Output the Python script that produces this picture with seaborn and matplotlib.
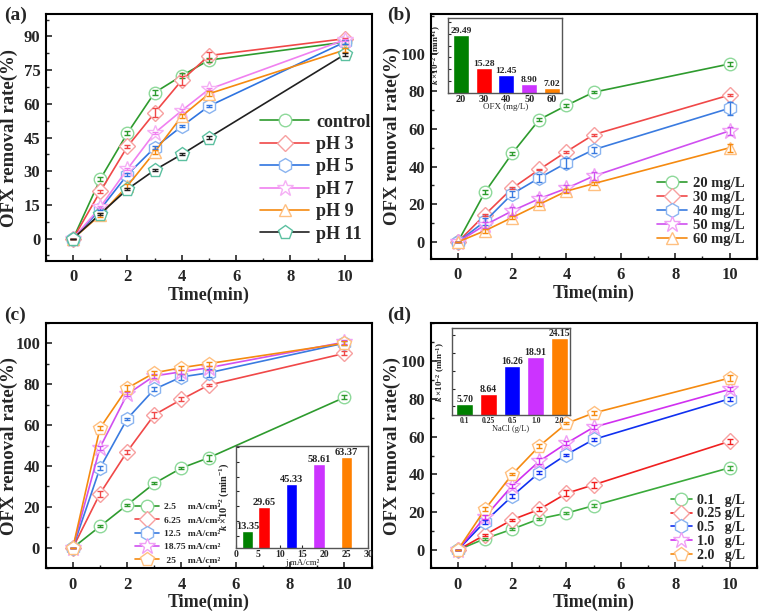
import numpy as np
import pandas as pd
import matplotlib
matplotlib.use('Agg')
import matplotlib.pyplot as plt
import seaborn as sns
from matplotlib.ticker import MultipleLocator, AutoMinorLocator, NullFormatter, FixedLocator

# ---------------- data ----------------
time = [0, 1, 2, 3, 4, 5, 10]

# (a) pH
ph_labels = ['control', 'pH 3', 'pH 5', 'pH 7', 'pH 9', 'pH 11']
ph_control = [0, 26.5, 47, 65, 72.5, 79.5, 87.5]
ph_3 = [0, 21, 41, 56, 70.5, 81.5, 89]
ph_5 = [0, 13, 28.5, 40.5, 50, 59, 87.5]
ph_7 = [0, 14, 31, 47, 57, 66.5, 88.5]
ph_9 = [0, 10.5, 23.5, 38.5, 54.5, 64.5, 84]
ph_11 = [0, 11, 22, 30.5, 37.5, 45, 82]
ph_err = [[0, 1.0, 1.0, 1.2, 1.2, 1.0, 0.8],
          [0, 0.5, 0.5, 2.0, 2.0, 1.5, 0.5],
          [0, 0.5, 0.5, 0.5, 0.5, 0.5, 0.8],
          [0, 0.5, 0.5, 0.5, 0.5, 0.5, 0.5],
          [0, 1.0, 1.0, 1.0, 1.0, 1.0, 1.0],
          [0, 0.5, 0.5, 0.5, 0.5, 0.5, 0.5]]

# (b) initial OFX concentration
ofx_labels = ['20 mg/L', '30 mg/L', '40 mg/L', '50 mg/L', '60 mg/L']
ofx_20 = [0, 26.5, 47, 65, 72.5, 79.5, 94.5]
ofx_30 = [0, 14.5, 28.5, 38.5, 48, 57, 78]
ofx_40 = [0, 11, 25.5, 34, 42, 49, 71]
ofx_50 = [0, 9, 16.5, 23, 28.5, 35, 59]
ofx_60 = [0, 6, 13, 20, 27, 31, 50]
ofx_err = [[0, 1.0, 1.0, 1.0, 1.0, 0.5, 1.0],
           [0, 0.5, 0.5, 0.5, 0.5, 0.5, 0.5],
           [0, 2.0, 1.5, 2.0, 2.5, 1.5, 3.5],
           [0, 1.5, 2.0, 2.0, 2.0, 2.0, 2.0],
           [0, 1.0, 1.0, 1.0, 1.0, 1.0, 2.0]]
ofx_conc = ['20', '30', '40', '50', '60']
ofx_k = [29.49, 15.28, 12.45, 8.90, 7.02]

# (c) current density
j_labels = ['2.5     mA/cm²', '6.25   mA/cm²', '12.5   mA/cm²', '18.75 mA/cm²', ' 25     mA/cm²']
j_25 = [0, 10.5, 21, 31.5, 39, 44, 73.5]
j_625 = [0, 26.5, 47, 65, 72.5, 79.5, 95]
j_125 = [0, 39, 63, 77.5, 83.5, 85.5, 100]
j_1875 = [0, 49, 75, 84, 86, 88, 100.5]
j_250 = [0, 58.5, 78, 85.5, 88, 90, 100]
j_err = [[0, 0.5, 0.5, 0.5, 0.5, 1.5, 1.0],
         [0, 1.5, 1.0, 1.5, 1.0, 0.5, 1.0],
         [0, 1.0, 0.5, 1.0, 1.5, 2.0, 1.0],
         [0, 1.0, 1.0, 1.0, 1.0, 1.0, 1.0],
         [0, 1.0, 1.5, 1.0, 1.0, 1.0, 1.0]]
j_vals = [2.5, 6.25, 12.5, 18.75, 25]
j_k = [13.35, 29.65, 45.33, 58.61, 63.37]

# (d) NaCl dosage
nacl_labels = ['0.1   g/L', '0.25 g/L', '0.5   g/L', '1.0   g/L', '2.0   g/L']
nacl_01 = [0, 6, 11, 16.5, 19.5, 23.5, 43.5]
nacl_025 = [0, 8, 16, 21.5, 30, 34.5, 57.5]
nacl_05 = [0, 15, 28.5, 41, 50.5, 58.5, 80]
nacl_10 = [0, 17.5, 34, 47, 56.5, 65, 85]
nacl_20 = [0, 21.5, 40, 55, 67, 72.5, 91]
nacl_err = [[0, 0.5, 0.5, 0.5, 0.5, 1.0, 1.0],
            [0, 0.5, 0.5, 1.0, 1.5, 1.5, 1.5],
            [0, 1.0, 1.0, 1.0, 0.5, 1.0, 1.0],
            [0, 1.0, 1.0, 1.5, 1.0, 1.0, 1.0],
            [0, 1.0, 0.5, 1.0, 0.5, 1.0, 1.5]]
nacl_conc = ['0.1', '0.25', '0.5', '1.0', '2.0']
nacl_k = [5.70, 8.64, 16.26, 18.91, 24.15]

# ---------------- style ----------------
sns.set_theme(style='ticks')
plt.rcParams['font.family'] = ['Liberation Serif', 'DejaVu Serif']
plt.rcParams['font.weight'] = 'bold'
plt.rcParams['axes.labelweight'] = 'bold'
plt.rcParams['mathtext.fontset'] = 'custom'
plt.rcParams['mathtext.rm'] = 'Liberation Serif:bold'
plt.rcParams['mathtext.it'] = 'Liberation Serif:italic:bold'
plt.rcParams['mathtext.bf'] = 'Liberation Serif:bold'
plt.rcParams['xtick.direction'] = 'in'
plt.rcParams['ytick.direction'] = 'in'

bar_colors = ['#008000', '#FF0000', '#0000FF', '#CC33FF', '#FF8000']
line_a = ['#2E9B2E', '#F04848', '#2F74E0', '#F080F0', '#F58A10', '#202020']
edge_a = ['#8ED99A', '#F7A0A0', '#8AB4F0', '#F5B0F5', '#FFC080', '#5CC0A0']
line_b = ['#2E9B2E', '#F04848', '#3A7BE0', '#D050F0', '#F58A10']
edge_b = ['#8ED99A', '#F7A0A0', '#8AB4F0', '#F0A0F5', '#FFC080']
line_d = ['#3AAA3A', '#F02020', '#1030F0', '#D030F0', '#F58A10']
markers_a = ['o', 'D', 'h', '*', '^', 'p']
msize_a = [9, 8, 10, 12, 9, 10]
markers_b = ['o', 'D', 'h', '*', '^']
msize_b = [9, 8, 10, 12, 9]
markers_c = ['o', 'D', 'h', '*', 'p']
msize_c = [9, 8, 10, 12, 10]

fig = plt.figure(figsize=(7.69, 6.15), dpi=100)
axA = fig.add_axes([0.0598, 0.5756, 0.4239, 0.4016])
axB = fig.add_axes([0.5600, 0.5789, 0.4240, 0.3983])
axC = fig.add_axes([0.0594, 0.0759, 0.4238, 0.3994])
axD = fig.add_axes([0.5600, 0.0759, 0.4240, 0.3994])


def draw_series(ax, series, labels, errs, lcols, ecols, mks, mss):
    for vals, lab, err, lc, ec, mk, ms in zip(series, labels, errs, lcols, ecols, mks, mss):
        df = pd.DataFrame({'t': time, 'v': vals})
        sns.lineplot(data=df, x='t', y='v', ax=ax, color=lc, lw=1.2, marker=mk,
                     markersize=ms, markerfacecolor='white', markeredgecolor=ec,
                     markeredgewidth=1.0, label=lab, zorder=3)
        ax.errorbar(time, vals, yerr=err, fmt='none', ecolor=lc, elinewidth=1.0,
                    capsize=2.5, capthick=1.0, zorder=5)


def style_main(ax, ylim, yticks, yminor, tag, tag_xy, ylab_x):
    ax.set_xlim(-1, 11)
    ax.set_ylim(*ylim)
    ax.xaxis.set_major_locator(MultipleLocator(2))
    ax.xaxis.set_minor_locator(MultipleLocator(1))
    ax.yaxis.set_major_locator(FixedLocator(yticks))
    ax.yaxis.set_minor_locator(MultipleLocator(yminor))
    ax.tick_params(which='major', length=4, width=1.2, labelsize=12, pad=4)
    ax.tick_params(axis='x', which='major', pad=6)
    ax.tick_params(which='minor', length=2.5, width=1.0)
    for s in ax.spines.values():
        s.set_linewidth(1.5)
        s.set_color('black')
    ax.set_xlabel('Time(min)', fontsize=13, fontweight='bold', labelpad=1)
    ax.set_ylabel('OFX removal rate(%)', fontsize=13.5, fontweight='bold')
    ax.yaxis.set_label_coords(ylab_x, 0.5)
    fig.text(tag_xy[0] / 769, 1 - tag_xy[1] / 615, tag, fontsize=14, fontweight='bold',
             ha='left', va='center')


# (a)
draw_series(axA, [ph_control, ph_3, ph_5, ph_7, ph_9, ph_11], ph_labels, ph_err,
            line_a, edge_a, markers_a, msize_a)
style_main(axA, (-10, 100), [0, 15, 30, 45, 60, 75, 90], 7.5, '(a)', (4, 15), -0.085)
axA.legend(loc='lower left', bbox_to_anchor=(0.635, 0.045), borderaxespad=0, frameon=False,
           handlelength=2.7, labelspacing=0.3, handletextpad=0.4,
           prop={'weight': 'bold', 'size': 13})

# (b)
draw_series(axB, [ofx_20, ofx_30, ofx_40, ofx_50, ofx_60], ofx_labels, ofx_err,
            line_b, edge_b, markers_b, msize_b)
style_main(axB, (-9, 121), [0, 20, 40, 60, 80, 100], 10, '(b)', (387, 15), -0.092)
axB.legend(loc='lower left', bbox_to_anchor=(0.675, 0.03), borderaxespad=0, frameon=False,
           handlelength=2.1, labelspacing=0.05, handletextpad=0.4,
           prop={'weight': 'bold', 'size': 10.5})

# (c)
draw_series(axC, [j_25, j_625, j_125, j_1875, j_250], j_labels, j_err,
            line_b, edge_b, markers_c, msize_c)
style_main(axC, (-10, 110), [0, 20, 40, 60, 80, 100], 10, '(c)', (4, 315), -0.085)
axC.legend(loc='lower left', bbox_to_anchor=(0.262, 0.0), borderaxespad=0, frameon=False,
           handlelength=2.6, labelspacing=0.5, handletextpad=0.5,
           prop={'weight': 'bold', 'size': 6.8})

# (d)
draw_series(axD, [nacl_01, nacl_025, nacl_05, nacl_10, nacl_20], nacl_labels, nacl_err,
            line_d, edge_b, markers_c, msize_c)
style_main(axD, (-9.7, 120.3), [0, 20, 40, 60, 80, 100], 10, '(d)', (387, 315), -0.092)
axD.legend(loc='lower left', bbox_to_anchor=(0.72, 0.005), borderaxespad=0, frameon=False,
           handlelength=1.5, labelspacing=0.05, handletextpad=0.4,
           prop={'weight': 'bold', 'size': 10})

klabel = r'$\mathit{k}$ $\times$10$^{-2}$ (min$^{-1}$)'


def style_inset(ax, tick_fs):
    for s in ax.spines.values():
        s.set_linewidth(1.0)
        s.set_color('#555555')
    ax.tick_params(axis='both', which='major', length=2.5, width=0.8, labelsize=tick_fs, pad=1.5)
    ax.yaxis.set_major_formatter(NullFormatter())
    ax.set_facecolor('white')


# inset (b)
iB = fig.add_axes([0.583, 0.8493, 0.1482, 0.1209])
sns.barplot(x=ofx_conc, y=ofx_k, hue=ofx_conc, palette=bar_colors, saturation=1,
            width=0.7, legend=False, ax=iB)
iB.set_ylim(5, 36.6)
iB.set_xlim(-0.55, 4.45)
iB.yaxis.set_major_locator(MultipleLocator(5))
style_inset(iB, 7.5)
iB.tick_params(axis='y', which='major', length=2)
iB.set_xlabel('OFX (mg/L)', fontsize=6.5, fontweight='normal', labelpad=-0.5)
iB.set_ylabel(klabel, fontsize=6.5, labelpad=2)
for c in iB.containers:
    iB.bar_label(c, fmt='%.2f', fontsize=6.8, fontweight='bold', padding=0)

# inset (c)
iC = fig.add_axes([0.3073, 0.1085, 0.1716, 0.1668])
sns.barplot(x=j_vals, y=j_k, hue=[str(v) for v in j_vals], palette=bar_colors,
            saturation=1, width=0.7, native_scale=True, legend=False, ax=iC)
iC.set_xlim(0, 30)
iC.set_ylim(1.7, 70.8)
iC.xaxis.set_major_locator(MultipleLocator(5))
iC.yaxis.set_major_locator(MultipleLocator(10))
style_inset(iC, 7)
iC.set_xlabel('j mA/cm²', fontsize=6.5, fontweight='normal', labelpad=0)
iC.set_ylabel(klabel, fontsize=7.5, labelpad=2)
for c in iC.containers:
    iC.bar_label(c, fmt='%.2f', fontsize=7.5, fontweight='bold', padding=0)

# inset (d)
iD = fig.add_axes([0.5874, 0.3252, 0.1538, 0.141])
sns.barplot(x=nacl_conc, y=nacl_k, hue=nacl_conc, palette=bar_colors, saturation=1,
            width=0.7, legend=False, ax=iD)
iD.set_ylim(2.6, 27)
iD.set_xlim(-0.55, 4.45)
iD.yaxis.set_major_locator(MultipleLocator(5))
style_inset(iD, 5.5)
iD.set_xlabel('NaCl (g/L)', fontsize=6, fontweight='normal', labelpad=0)
iD.set_ylabel(klabel, fontsize=6.5, labelpad=2)
for c in iD.containers:
    iD.bar_label(c, fmt='%.2f', fontsize=7, fontweight='bold', padding=0)

fig.savefig('out.png', dpi=100)
